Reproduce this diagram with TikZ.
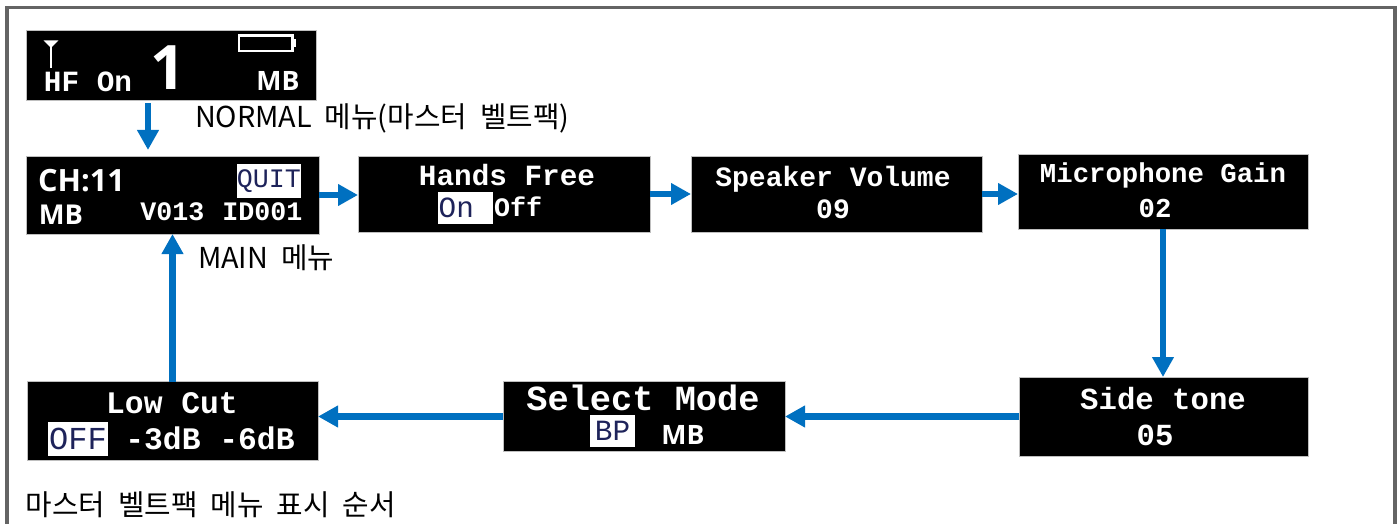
\documentclass[tikz,border=0pt]{standalone}
\usepackage{xcolor}
\usepackage{fontspec}
\usepackage{tikz}
\usetikzlibrary{shapes,positioning,arrows.meta,calc}
\setmainfont{Noto Sans CJK KR}
\newfontfamily\oledfont{Liberation Mono}
\newfontfamily\sansfont{Open Sans}
\definecolor{flowblue}{RGB}{0,112,192}
\definecolor{framegray}{RGB}{100,100,100}
\definecolor{oledink}{RGB}{30,35,90}
\tikzset{
	every node/.style = { align = center, inner sep=0pt, outer sep=0pt },
	scr/.style 2 args = { rectangle, fill=black, draw=black!25, line width=.6pt, minimum width=#1*.75pt, minimum height=#2*.75pt },
	flow/.style = { -{Triangle[length=15pt,width=15.5pt]}, line width=5.2pt, color=flowblue },
	oled/.style = { text=white, font=\oledfont\bfseries\fontsize{#1}{#1}\selectfont },
	osd/.style = { text=white, font=\sansfont\bfseries\fontsize{#1}{#1}\selectfont },
	inv/.style n args = {3}{ fill=white, text=oledink, minimum width=#1*.75pt, minimum height=#2*.75pt, font=\oledfont\fontsize{#3}{#3}\selectfont },
	capt/.style = { anchor=west, text=black, font=\fontsize{21.6}{24}\selectfont },
}
\begin{document}
\begin{tikzpicture}[x=.75pt,y=-.75pt]
\useasboundingbox (0,0) rectangle (1399,524);
\draw[framegray,line width=2.4pt] (7,524) -- (7,7.5) -- (1395,7.5) -- (1395,524);

% screens
\node (normal) [scr={290}{70},anchor=north west] at (26,30) {};
\node (main)   [scr={293}{78},below=42pt of normal.south west,anchor=north west] {};
\node (hands)  [scr={292}{76},right=29.25pt of main.north east,anchor=north west] {};
\node (spk)    [scr={291}{76},right=30.75pt of hands.north east,anchor=north west] {};
\node (mic)    [scr={290}{75},right=27pt of spk.north east,anchor=north west,yshift=1.5pt] {};
\node (side)   [scr={289}{79},below=111pt of mic.south east,anchor=north east] {};
\node (sel)    [scr={282}{70},left=175.5pt of side.west,anchor=east] {};
\node (low)    [scr={291}{79},left=138.75pt of sel.north west,anchor=north east] {};

% NORMAL
\node (nhf)  [oled=22] at (88,82) {HF On};
\node (none) [text=white,font=\sansfont\bfseries\fontsize{46}{46}\selectfont] at (168,68) {1};
\node (nmb)  [osd=20] at (278,81) {MB};
\node (nant) [isosceles triangle,shape border rotate=-90,isosceles triangle stretches,fill=white,minimum width=11pt,minimum height=5.5pt] at (51,43.5) {};
\draw[white,line width=1.6pt] (nant.center) -- +(0,24.5);
\node (nbat) [draw=white,line width=2pt,minimum width=40pt,minimum height=11.5pt] at (265.5,43.5) {};
\node (nnub) [fill=white,minimum width=2.5pt,minimum height=6pt,right=0pt of nbat.east] {};

% MAIN
\node (mch)   [osd=23] at (81.5,181) {CH:11};
\node (mmb)   [osd=20.5] at (61,215) {MB};
\node (mquit) [inv={64}{34}{20}] at (269,181) {QUIT};
\node (mver)  [oled=20] at (172.5,212) {V013};
\node (mid)   [oled=20] at (262.5,212) {ID001};

% Hands Free
\node (hhead) [oled=22] at (507,175) {Hands Free};
\node (hon)   [inv={55}{32}{22}] at (465,208) {On\hspace*{13pt}};
\node (hoff)  [oled=20] at (518,207) {Off};

% Speaker Volume
\node (shead) [oled=21] at (833,179) {Speaker Volume};
\node (sval)  [oled=21] at (833,209) {09};

% Microphone Gain
\node (ghead) [oled=20.5] at (1163,175) {Microphone Gain};
\node (gval)  [oled=20.5] at (1155,208) {02};

% Side tone
\node (thead) [oled=23] at (1163,399) {Side tone};
\node (tval)  [oled=23] at (1155,435) {05};

% Select Mode
\node (mhead) [oled=26.5] at (643,398) {Select Mode};
\node (mbp)   [inv={45}{32}{22}] at (612.5,431) {BP};
\node (mmode) [osd=20] at (683,435) {MB};

% Low Cut
\node (lhead) [oled=23.5] at (172,403) {Low Cut};
\node (loff)  [inv={60}{34}{24}] at (78,439) {OFF};
\node (lval)  [oled=23.5] at (210,438) {-3dB -6dB};

% captions
\node (cnormal) [capt] at (195,118) {NORMAL~ 메뉴(마스터~ 벨트팩)};
\node (cmain)   [capt] at (198,258) {MAIN~ 메뉴};
\node (corder)  [capt] at (26,505)  {마스터~ 벨트팩~ 메뉴~ 표시~ 순서};

% flow
\draw[flow] ($(normal.south west)+(122,3)$) -- ($(main.north west)+(122,-6)$);
\draw[flow] (main.east)  -- (main.east-|hands.west);
\draw[flow] (hands.east) -- (hands.east-|spk.west);
\draw[flow] (spk.east)   -- (spk.east-|mic.west);
\draw[flow] (mic.south)  -- (mic.south|-side.north);
\draw[flow] (side.west)  -- (sel.east);
\draw[flow] (sel.west)   -- (sel.west-|low.east);
\draw[flow] (low.north)  -- (low.north|-main.south);
\end{tikzpicture}
\end{document}
